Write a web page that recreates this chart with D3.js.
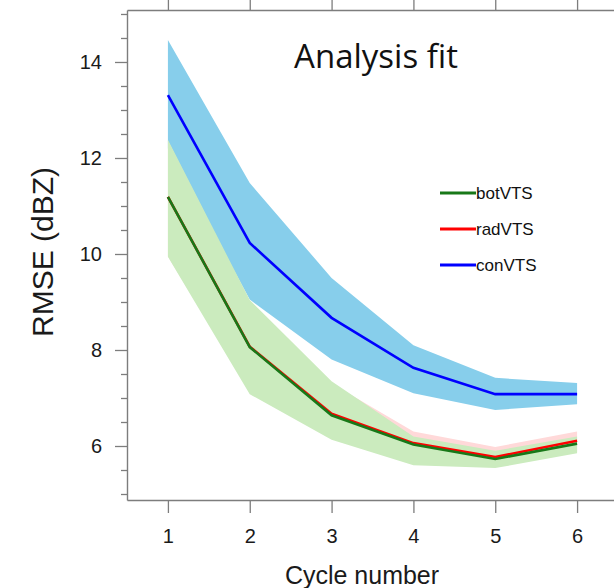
<!DOCTYPE html>
<html>
<head>
<meta charset="utf-8">
<script src="https://cdn.jsdelivr.net/npm/d3@7"></script>
<style>
  html, body { margin: 0; padding: 0; background: #fff; }
  svg { display: block; }
</style>
</head>
<body>
<svg id="chart" width="614" height="588"></svg>
<script>
// Analysis-fit RMSE per assimilation cycle, mean and spread for each experiment
const cycles = [1, 2, 3, 4, 5, 6];

const conMean = [13.31, 10.23, 8.67, 7.63, 7.08, 7.08];
const conLow  = [12.20, 9.05, 7.80, 7.10, 6.75, 6.87];
const conHigh = [14.46, 11.48, 9.50, 8.10, 7.42, 7.31];

const radMean = [11.19, 8.07, 6.67, 6.06, 5.77, 6.11];
const radLow  = [9.95, 7.15, 6.15, 5.65, 5.57, 5.88];
const radHigh = [12.36, 9.00, 7.30, 6.30, 5.98, 6.30];

const botMean = [11.19, 8.06, 6.64, 6.03, 5.73, 6.05];
const botLow  = [9.94, 7.08, 6.13, 5.60, 5.54, 5.85];
const botHigh = [12.38, 9.04, 7.35, 6.20, 5.90, 6.20];

const yMajor = [6, 8, 10, 12, 14];
const yMinor = [5, 5.5, 6.5, 7, 7.5, 8.5, 9, 9.5, 10.5, 11, 11.5, 12.5, 13, 13.5, 14.5, 15];
const legendNames = ["botVTS", "radVTS", "conVTS"];

const svg = d3.select("#chart");
const plot = { left: 127, top: 10, bottom: 500, right: 618 };

const x = d3.scaleLinear().domain([0.5, 6.5]).range([plot.left, plot.right]);
const y = d3.scaleLinear().domain([4.875, 15.083]).range([plot.bottom, plot.top]);

const frameColor = "#7d7d7d";
const sans = "'Liberation Sans', Arial, Helvetica, sans-serif";

// spread bands
const band = (lo, hi) => d3.area()
  .x((d, i) => x(cycles[i]))
  .y0((d, i) => y(lo[i]))
  .y1((d, i) => y(hi[i]))(cycles);

svg.append("path").attr("d", band(conLow, conHigh)).attr("fill", "#87ceeb");
svg.append("path").attr("d", band(radLow, radHigh)).attr("fill", "#ffd9d9");
svg.append("path").attr("d", band(botLow, botHigh)).attr("fill", "#cbebbe");

// mean lines
const line = vals => d3.line()
  .x((d, i) => x(cycles[i]))
  .y((d, i) => y(vals[i]))(cycles);

svg.append("path").attr("d", line(radMean)).attr("fill", "none")
  .attr("stroke", "#ff0000").attr("stroke-width", 2.6);
svg.append("path").attr("d", line(botMean)).attr("fill", "none")
  .attr("stroke", "#187818").attr("stroke-width", 2.6);
svg.append("path").attr("d", line(conMean)).attr("fill", "none")
  .attr("stroke", "#0000ff").attr("stroke-width", 2.6);

// axes
function styleAxis(g) {
  g.selectAll("path.domain").attr("stroke", frameColor).attr("stroke-width", 1.4);
  g.selectAll(".tick line").attr("stroke", frameColor).attr("stroke-width", 1.3);
  g.selectAll(".tick text").attr("fill", "#1a1a1a")
    .style("font-family", sans).style("font-size", "20px");
}

const gLeftMinor = svg.append("g").attr("transform", `translate(${plot.left},0)`)
  .call(d3.axisLeft(y).tickValues(yMinor).tickSize(6).tickSizeOuter(0).tickFormat(""));
styleAxis(gLeftMinor);
gLeftMinor.select("path.domain").remove();

const gLeft = svg.append("g").attr("transform", `translate(${plot.left},0)`)
  .call(d3.axisLeft(y).tickValues(yMajor).tickSize(12).tickSizeOuter(0).tickPadding(13)
    .tickFormat(d3.format("d")));
styleAxis(gLeft);

const gBottom = svg.append("g").attr("transform", `translate(0,${plot.bottom})`)
  .call(d3.axisBottom(x).tickValues(cycles).tickSize(13).tickSizeOuter(0).tickPadding(16)
    .tickFormat(d3.format("d")));
styleAxis(gBottom);

const gTop = svg.append("g").attr("transform", `translate(0,${plot.top})`)
  .call(d3.axisTop(x).tickValues(cycles).tickSize(10).tickSizeOuter(0).tickFormat(""));
styleAxis(gTop);

// axis titles
svg.append("text")
  .attr("transform", `translate(53,252) rotate(-90)`)
  .attr("text-anchor", "middle")
  .style("font-family", sans).style("font-size", "30px").attr("fill", "#1a1a1a")
  .text("RMSE (dBZ)");

svg.append("text")
  .attr("x", 362).attr("y", 584)
  .attr("text-anchor", "middle")
  .style("font-family", sans).style("font-size", "25px").attr("fill", "#1a1a1a")
  .text("Cycle number");

// panel title
svg.append("text")
  .attr("x", 376).attr("y", 68)
  .attr("text-anchor", "middle")
  .style("font-family", "'Open Sans', 'Noto Sans', sans-serif").style("font-size", "33px")
  .attr("fill", "#111")
  .text("Analysis fit");

// legend
const legendColors = ["#187818", "#ff0000", "#0000ff"];
const lg = svg.append("g");
legendNames.forEach((name, i) => {
  const ly = 193 + i * 36;
  lg.append("line").attr("x1", 440).attr("x2", 476).attr("y1", ly).attr("y2", ly)
    .attr("stroke", legendColors[i]).attr("stroke-width", 3);
  lg.append("text").attr("x", 476).attr("y", ly + 6)
    .style("font-family", sans).style("font-size", "17px").attr("fill", "#111")
    .text(name);
});
</script>
</body>
</html>
